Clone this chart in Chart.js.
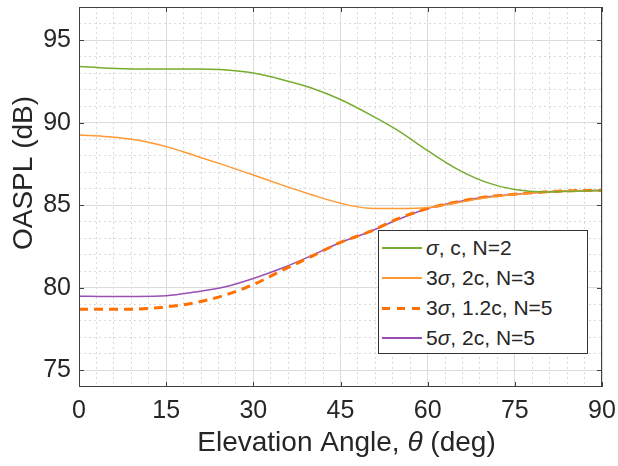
<!DOCTYPE html>
<html>
<head>
<meta charset="utf-8">
<script src="https://cdn.jsdelivr.net/npm/chart.js@4.4.0/dist/chart.umd.min.js"></script>
<style>
  body { margin: 0; background: #fff; }
  #wrap { position: relative; width: 618px; height: 466px; }
  #legend {
    position: absolute; left: 378px; top: 230px; width: 210px; height: 124px;
    background: #fff; border: 1px solid #333; box-sizing: border-box;
    font-family: "Liberation Sans", Arial, sans-serif; font-size: 21px; color: #262626;
    padding-top: 2px;
  }
  .row { height: 30px; display: flex; align-items: center; white-space: nowrap; }
  .swatch { width: 40px; margin: 0 4px 0 3px; }
</style>
</head>
<body>
<div id="wrap">
  <canvas id="oaspl" width="618" height="466"></canvas>
  <div id="legend"></div>
</div>
<script>
// elevation angle (deg)
const theta = [0, 5, 10, 15, 20, 25, 30, 35, 40, 45, 50, 55, 60, 65, 70, 75, 80, 85, 90];

const seriesA = [93.4, 93.3, 93.25, 93.25, 93.25, 93.2, 93.0, 92.6, 92.1, 91.4, 90.5, 89.5, 88.3, 87.2, 86.4, 85.95, 85.8, 85.85, 85.9];
const seriesB = [89.25, 89.15, 88.95, 88.55, 88.0, 87.43, 86.83, 86.22, 85.64, 85.12, 84.82, 84.8, 84.86, 85.15, 85.45, 85.65, 85.8, 85.88, 85.9];
const seriesC = [78.7, 78.7, 78.72, 78.85, 79.1, 79.55, 80.2, 81.07, 81.9, 82.75, 83.4, 84.2, 84.8, 85.2, 85.5, 85.67, 85.8, 85.88, 85.9];
const seriesD = [79.5, 79.48, 79.48, 79.52, 79.75, 80.05, 80.57, 81.2, 81.95, 82.75, 83.4, 84.15, 84.8, 85.2, 85.5, 85.67, 85.8, 85.88, 85.9];

const labels = ["<i>σ</i>, c, N=2", "3<i>σ</i>, 2c, N=3", "3<i>σ</i>, 1.2c, N=5", "5<i>σ</i>, 2c, N=5"];

const xTicks = [0, 15, 30, 45, 60, 75, 90];
const yTicks = [75, 80, 85, 90, 95];
const xMinor = [3, 6, 9, 12, 18, 21, 24, 27, 33, 36, 39, 42, 48, 51, 54, 57, 63, 66, 69, 72, 78, 81, 84, 87];
const yMinor = [76, 77, 78, 79, 81, 82, 83, 84, 86, 87, 88, 89, 91, 92, 93, 94, 96];

const FONT = "'Liberation Sans', Arial, sans-serif";
const TXT = "#262626";

const styles = [
  { color: "#77ac30", width: 1.5, dash: [] },
  { color: "#ff9933", width: 1.5, dash: [] },
  { color: "#ff7000", width: 3, dash: [9, 6] },
  { color: "#9a4fb5", width: 1.5, dash: [] },
];
const values = [seriesA, seriesB, seriesC, seriesD];

const datasets = values.map((v, i) => ({
  label: labels[i],
  data: theta.map((t, j) => ({ x: t, y: v[j] })),
  xAxisID: "x",
  yAxisID: "y",
  borderColor: styles[i].color,
  borderWidth: styles[i].width,
  borderDash: styles[i].dash,
  pointRadius: 0,
  cubicInterpolationMode: "monotone",
  fill: false,
}));

// html legend
const leg = document.getElementById("legend");
labels.forEach((lab, i) => {
  const s = styles[i];
  const bg = s.dash.length
    ? "repeating-linear-gradient(to right," + s.color + " 0 8px, transparent 8px 15px)"
    : s.color;
  leg.innerHTML += '<div class="row"><span class="swatch" style="height:' + s.width +
    'px;background:' + bg + '"></span>' + lab + '</div>';
});

function setTicks(list) {
  return scale => { scale.ticks = list.map(v => ({ value: v })); };
}
function fixSize(w, h) {
  return s => {
    if (w !== null) s.width = w;
    if (h !== null) s.height = h;
    s.paddingTop = 0; s.paddingBottom = 0; s.paddingLeft = 0; s.paddingRight = 0;
  };
}

// box, inward ticks and axis titles like matlab
const boxPlugin = {
  id: "box",
  afterDraw(chart) {
    const { ctx, chartArea: a, scales } = chart;
    ctx.save();
    ctx.strokeStyle = "#404040";
    ctx.lineWidth = 1;
    ctx.strokeRect(a.left + 0.5, a.top + 0.5, a.right - a.left - 1, a.bottom - a.top - 1);
    ctx.beginPath();
    xTicks.forEach(v => {
      const px = Math.round(scales.x.getPixelForValue(v)) + 0.5;
      ctx.moveTo(px, a.bottom); ctx.lineTo(px, a.bottom - 5);
      ctx.moveTo(px, a.top); ctx.lineTo(px, a.top + 5);
    });
    yTicks.forEach(v => {
      const py = Math.round(scales.y.getPixelForValue(v)) + 0.5;
      ctx.moveTo(a.left, py); ctx.lineTo(a.left + 5, py);
      ctx.moveTo(a.right, py); ctx.lineTo(a.right - 5, py);
    });
    ctx.stroke();

    // titles
    ctx.fillStyle = TXT;
    ctx.textBaseline = "middle";
    const up = "28px " + FONT, it = "italic 28px " + FONT;
    const parts = [["Elevation Angle, ", up], ["θ", it], [" (deg)", up]];
    let total = 0;
    parts.forEach(p => { ctx.font = p[1]; total += ctx.measureText(p[0]).width; });
    let x = (a.left + a.right) / 2 + 6 - total / 2;
    parts.forEach(p => {
      ctx.font = p[1];
      ctx.fillText(p[0], x, 443);
      x += ctx.measureText(p[0]).width;
    });
    ctx.translate(24, 173);
    ctx.rotate(-Math.PI / 2);
    ctx.font = up;
    ctx.textAlign = "center";
    ctx.fillText("OASPL (dB)", 0, 0);
    ctx.restore();
  }
};

new Chart(document.getElementById("oaspl"), {
  type: "line",
  data: { datasets: datasets },
  plugins: [boxPlugin],
  options: {
    responsive: false,
    animation: false,
    layout: { padding: { top: 7, right: 16, left: 0, bottom: 0 } },
    plugins: { legend: { display: false }, tooltip: { enabled: false } },
    scales: {
      xMin: {
        type: "linear", position: "bottom", min: 0, max: 90,
        afterBuildTicks: setTicks(xMinor),
        afterFit: fixSize(null, 0),
        ticks: { display: false },
        border: { display: false, dash: [2, 3] },
        grid: { color: "#dadada", lineWidth: 1, drawTicks: false },
      },
      yMin: {
        type: "linear", position: "left", min: 74, max: 97,
        afterBuildTicks: setTicks(yMinor),
        afterFit: fixSize(0, null),
        ticks: { display: false },
        border: { display: false, dash: [2, 3] },
        grid: { color: "#dadada", lineWidth: 1, drawTicks: false },
      },
      x: {
        type: "linear", position: "bottom", min: 0, max: 90,
        afterBuildTicks: setTicks(xTicks),
        afterFit: fixSize(null, 79),
        ticks: { color: TXT, font: { family: FONT, size: 25 }, padding: 9, maxRotation: 0 },
        border: { display: false },
        grid: { color: "#dcdcdc", lineWidth: 1, drawTicks: false },
      },
      y: {
        type: "linear", position: "left", min: 74, max: 97,
        afterBuildTicks: setTicks(yTicks),
        afterFit: fixSize(79, null),
        ticks: { color: TXT, font: { family: FONT, size: 25 }, padding: 8 },
        border: { display: false },
        grid: { color: "#dcdcdc", lineWidth: 1, drawTicks: false },
      },
    },
  },
});
</script>
</body>
</html>
